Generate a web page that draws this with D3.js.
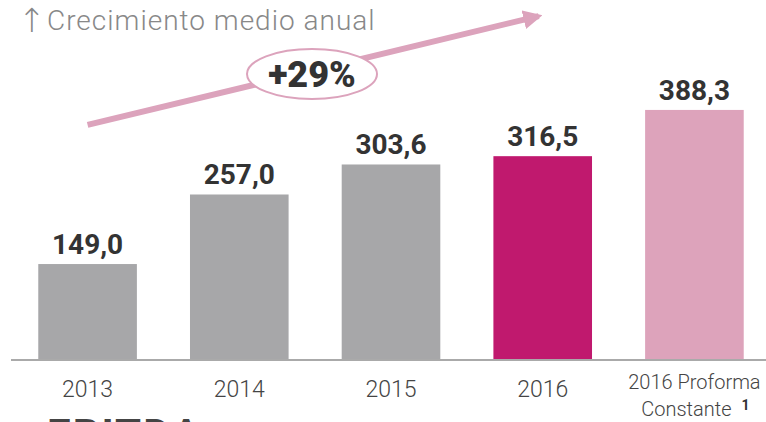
<!DOCTYPE html>
<html>
<head>
<meta charset="utf-8">
<script src="https://cdn.jsdelivr.net/npm/d3@7"></script>
<style>
  body { margin: 0; background: #fff; }
  svg { display: block; font-family: Roboto, "DejaVu Sans", sans-serif; }
</style>
</head>
<body>
<svg id="chart"></svg>
<script>
const categories = ["2013", "2014", "2015", "2016", "2016 Proforma Constante"];
const values = [149.0, 257.0, 303.6, 316.5, 388.3];
const colors = ["#a7a7a9", "#a7a7a9", "#a7a7a9", "#c0196e", "#dda3bb"];
const tickLines = [["2013"], ["2014"], ["2015"], ["2016"], ["2016 Proforma", "Constante"]];
const title = "Crecimiento medio anual";
const growth = "+29%";
const footer = "EBITDA";

const width = 766, height = 422;
const baseY = 360;

const svg = d3.select("#chart").attr("width", width).attr("height", height);

const x = d3.scaleBand()
  .domain(categories)
  .range([14, 768])
  .paddingInner(0.35)
  .paddingOuter(0.16);

const y = d3.scaleLinear()
  .domain([0, 400])
  .range([baseY, baseY - 257.6]);

const fmt = v => d3.format(".1f")(v).replace(".", ",");

// bars
svg.append("g")
  .selectAll("rect")
  .data(values)
  .join("rect")
    .attr("x", (_, i) => x(categories[i]))
    .attr("y", d => y(d))
    .attr("width", x.bandwidth())
    .attr("height", d => baseY - y(d))
    .attr("fill", (_, i) => colors[i]);

// value labels
svg.append("g")
  .selectAll("text")
  .data(values)
  .join("text")
    .attr("x", (_, i) => x(categories[i]) + x.bandwidth() / 2)
    .attr("y", d => y(d) - 10)
    .attr("text-anchor", "middle")
    .attr("font-size", 28)
    .attr("font-weight", 700)
    .attr("fill", "#333")
    .text(fmt);

// axis
const xaxis = svg.append("g")
  .attr("transform", `translate(0,${baseY})`)
  .call(d3.axisBottom(x).tickSize(0).tickSizeOuter(0).tickFormat(""));
xaxis.select(".domain")
  .attr("stroke", "#aaa")
  .attr("stroke-width", 2)
  .attr("d", `M11,0H${width}`);

const labels = svg.append("g");
categories.forEach((c, i) => {
  const lines = tickLines[i];
  const cx = x(c) + x.bandwidth() / 2;
  const t = labels.append("text")
    .attr("text-anchor", "middle")
    .attr("font-size", lines.length > 1 ? 20 : 23)
    .attr("font-weight", 300)
    .attr("fill", "#444");
  if (lines.length === 1) {
    t.attr("x", cx).attr("y", 397).text(lines[0]);
  } else {
    t.append("tspan").attr("x", cx).attr("y", 389).text(lines[0]);
    t.append("tspan").attr("x", cx - 8).attr("y", 416).text(lines[1]);
    labels.append("text")
      .attr("x", cx + 47)
      .attr("y", 410)
      .attr("font-size", 14)
      .attr("font-weight", 700)
      .attr("fill", "#333")
      .text("1");
  }
});

// growth arrow
const ax0 = x("2013") + x.bandwidth() / 2, ay0 = y(365);
const ax1 = x("2016") + x.bandwidth() / 2 - 4, ay1 = y(534);
const defs = svg.append("defs");
defs.append("marker")
  .attr("id", "head")
  .attr("viewBox", "0 0 10 10")
  .attr("refX", 8).attr("refY", 5)
  .attr("markerWidth", 3.2).attr("markerHeight", 3.2)
  .attr("orient", "auto")
  .append("path")
    .attr("d", "M0,0L10,5L0,10z")
    .attr("fill", "#dca3bc");
svg.append("line")
  .attr("x1", ax0).attr("y1", ay0)
  .attr("x2", ax1).attr("y2", ay1)
  .attr("stroke", "#dca3bc")
  .attr("stroke-width", 6)
  .attr("marker-end", "url(#head)");

const ex = 312, ey = 74;
svg.append("ellipse")
  .attr("cx", ex).attr("cy", ey)
  .attr("rx", 65).attr("ry", 25)
  .attr("fill", "#fff")
  .attr("stroke", "#dca3bc")
  .attr("stroke-width", 2);
svg.append("text")
  .attr("x", ex).attr("y", ey + 13)
  .attr("text-anchor", "middle")
  .attr("font-size", 36)
  .attr("font-weight", 900)
  .attr("fill", "#333")
  .text(growth);

// title
svg.append("text")
  .attr("x", 18).attr("y", 32)
  .attr("font-family", "'DejaVu Sans'")
  .attr("font-size", 33)
  .attr("font-weight", 200)
  .attr("fill", "#888")
  .text("\u2191");
svg.append("text")
  .attr("x", 47).attr("y", 30)
  .attr("font-size", 28)
  .attr("font-weight", 300)
  .attr("letter-spacing", 1)
  .attr("fill", "#888")
  .text(title);

// footer (cut by the edge, as in the source)
svg.append("text")
  .attr("x", 47).attr("y", 449)
  .attr("font-size", 42)
  .attr("font-weight", 700)
  .attr("letter-spacing", 2)
  .attr("fill", "#444")
  .text(footer);
</script>
</body>
</html>
